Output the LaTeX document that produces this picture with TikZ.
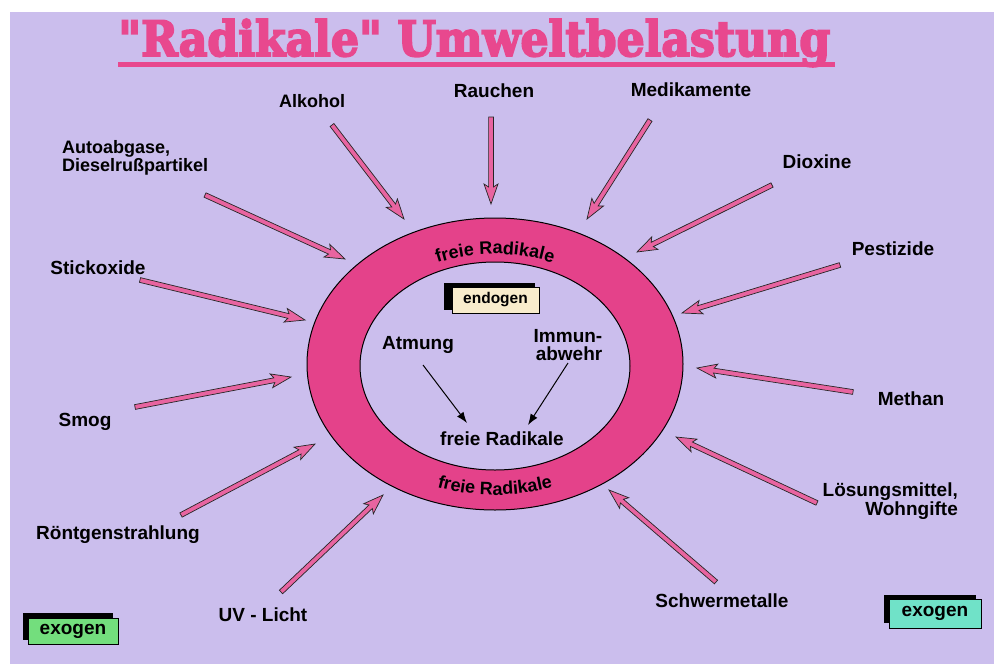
\documentclass[tikz,border=0pt]{standalone}
\usepackage{fontspec}
\usepackage{graphicx}
\setmainfont{Liberation Sans}
\newfontfamily\titlefont{DejaVu Serif Bold}[FakeBold=4]
\usetikzlibrary{calc,arrows.meta,decorations.text}
\definecolor{bg}{RGB}{203,190,237}
\definecolor{ringpink}{RGB}{228,66,138}
\definecolor{titlepink}{RGB}{232,72,142}
\definecolor{arrpink}{RGB}{232,100,160}
\definecolor{cream}{RGB}{248,236,204}
\definecolor{exgreen}{RGB}{115,222,125}
\definecolor{exteal}{RGB}{112,226,200}
\newcommand\lbf{\fontsize{19}{18.5}\selectfont\bfseries}
\newcommand\rbf{\fontsize{18}{18}\selectfont\bfseries}
\newcommand\pinkarr[2]{%
  \coordinate (pa1) at ($(#2)!17pt!(#1)$);
  \coordinate (pa2) at ($(#2)!20pt!(#1)$);
  \draw[parrow] ($(#1)!2.4pt!90:(#2)$) -- ($(pa1)!2.4pt!90:(#2)$) -- ($(pa2)!7pt!90:(#2)$) -- (#2)
    -- ($(pa2)!7pt!-90:(#2)$) -- ($(pa1)!2.4pt!-90:(#2)$) -- ($(#1)!2.4pt!-90:(#2)$) -- cycle;}
\begin{document}
\begin{tikzpicture}[x=1pt,y=1pt,
  lbl/.style={font=\lbf, inner sep=0pt, text=black},
  parrow/.style={fill=arrpink, draw=black!85, line width=0.7pt, line join=miter},
  blackarr/.style={draw=black, line width=1pt, -{Latex[length=11pt,width=8pt]}},
  frontbox/.style={draw=black, line width=0.8pt, inner sep=0pt, font=\lbf},
]
\useasboundingbox (0,0) rectangle (999,-664);
\fill[white] (0,0) rectangle (999,-664);
\fill[bg] (10,-12) rectangle (994,-664);

% title
\node[anchor=base west, inner sep=0pt, text=titlepink] (title) at (118,-56)
  {\resizebox{712pt}{37pt}{\titlefont "Radikale" Umweltbelastung}};
\coordinate (ulA) at (118,-64);
\coordinate (ulB) at (835,-64);
\draw[titlepink, line width=5pt] (ulA) -- (ulB);

% ring
\coordinate (rc) at (495,-364);
\draw[fill=ringpink, line width=1pt, even odd rule]
  (495,-364) ellipse[x radius=188, y radius=146]
  (495,-366) ellipse[x radius=135, y radius=104];
\path[decorate, decoration={text along path, text={|\rbf|freie Radikale}, text align=center}]
  (rc) ++(125:146 and 110) arc[start angle=125, end angle=55, x radius=146, y radius=110];
\path[decorate, decoration={text along path, text={|\rbf|freie Radikale}, text align=center}]
  (rc) ++(235:172 and 131) arc[start angle=235, end angle=305, x radius=172, y radius=131];

% endogen box
\fill[black] (444,-283) rectangle (535,-310);
\node[frontbox, fill=cream, minimum width=87pt, minimum height=26pt,
  font=\fontsize{15.5}{15.5}\selectfont\bfseries] (endo) at (495.5,-300) {endogen};

% inner content
\node[lbl] (atmung) at (418,-345) {Atmung};
\node[lbl, align=right] (immun) at (568,-345) {Immun-\\abwehr};
\node[lbl] (innerfr) at (502,-439) {freie Radikale};
\coordinate (atT) at (423,-365);
\coordinate (atH) at (467,-423);
\coordinate (imT) at (568,-363);
\coordinate (imH) at (528,-425);
\draw[blackarr] (atT) -- (atH);
\draw[blackarr] (imT) -- (imH);

% labels
\node[lbl, font=\fontsize{18}{18}\selectfont\bfseries] (alk) at (312,-101) {Alkohol};
\node[lbl] (rau) at (494,-91) {Rauchen};
\node[lbl] (med) at (691,-90) {Medikamente};
\node[lbl] (dio) at (817,-162) {Dioxine};
\node[lbl] (pes) at (893,-249) {Pestizide};
\node[lbl] (met) at (911,-399) {Methan};
\node[lbl, align=right, anchor=east] (loe) at (958,-501) {Lösungsmittel,\\Wohngifte};
\node[lbl] (sch) at (722,-601) {Schwermetalle};
\node[lbl] (uv) at (263,-615) {UV - Licht};
\node[lbl] (ron) at (118,-535) {Röntgenstrahlung};
\node[lbl] (smo) at (85,-422) {Smog};
\node[lbl] (sti) at (98,-268) {Stickoxide};
\node[lbl, align=left, anchor=west, font=\fontsize{18}{17.5}\selectfont\bfseries] (aut) at (62,-158) {Autoabgase,\\Dieselrußpartikel};

% arrows
\coordinate (alkT) at (332,-125); \coordinate (alkH) at (404,-219);
\coordinate (rauT) at (491,-117); \coordinate (rauH) at (491,-204);
\coordinate (medT) at (650,-120); \coordinate (medH) at (587,-219);
\coordinate (dioT) at (772,-185); \coordinate (dioH) at (637,-252);
\coordinate (pesT) at (840,-265); \coordinate (pesH) at (682,-313);
\coordinate (metT) at (853,-392); \coordinate (metH) at (697,-368);
\coordinate (loeT) at (817,-503); \coordinate (loeH) at (676,-437);
\coordinate (schT) at (716,-582); \coordinate (schH) at (609,-490);
\coordinate (uvT) at (281,-592); \coordinate (uvH) at (383,-495);
\coordinate (ronT) at (181,-515); \coordinate (ronH) at (315,-444);
\coordinate (smoT) at (135,-407); \coordinate (smoH) at (291,-377);
\coordinate (stiT) at (140,-280); \coordinate (stiH) at (305,-320);
\coordinate (autT) at (205,-195); \coordinate (autH) at (345,-259);
\pinkarr{alkT}{alkH}
\pinkarr{rauT}{rauH}
\pinkarr{medT}{medH}
\pinkarr{dioT}{dioH}
\pinkarr{pesT}{pesH}
\pinkarr{metT}{metH}
\pinkarr{loeT}{loeH}
\pinkarr{schT}{schH}
\pinkarr{uvT}{uvH}
\pinkarr{ronT}{ronH}
\pinkarr{smoT}{smoH}
\pinkarr{stiT}{stiH}
\pinkarr{autT}{autH}

% exogen boxes
\fill[black] (23,-613) rectangle (113,-640);
\node[frontbox, fill=exgreen, minimum width=90pt, minimum height=26pt] (exoL) at (73,-631) {exogen};
\fill[black] (884,-595) rectangle (976,-623);
\node[frontbox, fill=exteal, minimum width=92pt, minimum height=29pt] (exoR) at (935,-613.5) {exogen};
\end{tikzpicture}
\end{document}
